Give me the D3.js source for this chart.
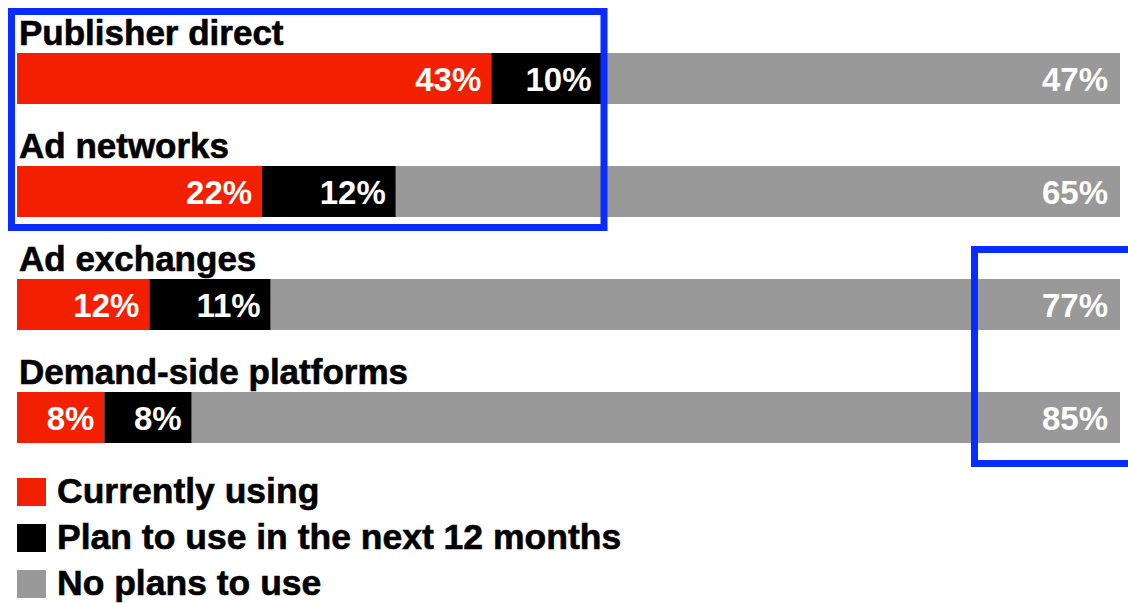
<!DOCTYPE html>
<html>
<head>
<meta charset="utf-8">
<script src="https://cdn.jsdelivr.net/npm/d3@7"></script>
<style>
  html, body { margin: 0; padding: 0; background: #fff; }
  svg { display: block; }
  text { font-family: "Liberation Sans", Arial, sans-serif; font-weight: bold; }
</style>
</head>
<body>
<svg id="chart" width="1128" height="603"></svg>
<script>
// Survey: use of ad buying channels
const categories = ["Publisher direct", "Ad networks", "Ad exchanges", "Demand-side platforms"];
const currentlyUsing = [43, 22, 12, 8];
const planToUse = [10, 12, 11, 8];
const noPlans = [47, 65, 77, 85];
const seriesNames = ["Currently using", "Plan to use in the next 12 months", "No plans to use"];
const seriesColors = ["#f22000", "#000000", "#999999"];

const svg = d3.select("#chart");
const left = 17, right = 1120;

const rows = categories.map((c, i) => {
  const vals = [currentlyUsing[i], planToUse[i], noPlans[i]];
  const total = d3.sum(vals);
  let acc = 0;
  const segs = vals.map((v, k) => {
    const s = { k, v, x0: acc, x1: acc + v, total };
    acc += v;
    return s;
  });
  return { c, segs, total };
});

const y = d3.scaleBand().domain(categories).range([20, 472]);
const barTop = 33, barH = 51;

const row = svg.selectAll("g.row").data(rows).join("g")
  .attr("class", "row")
  .attr("transform", d => `translate(0,${y(d.c)})`);

row.append("text")
  .attr("x", 19).attr("y", 25)
  .attr("font-size", 35)
  .attr("fill", "#000")
  .attr("stroke", "#000").attr("stroke-width", 0.6)
  .text(d => d.c);

row.each(function(d) {
  const x = d3.scaleLinear().domain([0, d.total]).range([left, right]);
  const g = d3.select(this);
  g.selectAll("rect.seg").data(d.segs).join("rect")
    .attr("class", "seg")
    .attr("x", s => x(s.x0))
    .attr("y", barTop)
    .attr("width", s => x(s.x1) - x(s.x0))
    .attr("height", barH)
    .attr("fill", s => seriesColors[s.k]);
  g.selectAll("text.val").data(d.segs).join("text")
    .attr("class", "val")
    .attr("x", s => x(s.x1) - (s.k === 2 ? 12 : 10))
    .attr("y", barTop + 38)
    .attr("text-anchor", "end")
    .attr("font-size", 33)
    .attr("fill", "#fff")
    .text(s => s.v + "%");
});

// Legend
const legend = svg.selectAll("g.legend").data(seriesNames).join("g")
  .attr("class", "legend")
  .attr("transform", (d, i) => `translate(17,${478 + i * 46})`);
legend.append("rect")
  .attr("width", 29).attr("height", 28)
  .attr("fill", (d, i) => seriesColors[i]);
legend.append("text")
  .attr("x", 40).attr("y", 25)
  .attr("font-size", 35.5)
  .attr("fill", "#000")
  .attr("stroke", "#000").attr("stroke-width", 0.6)
  .text(d => d);

// Highlight boxes
svg.append("rect")
  .attr("x", 11.5).attr("y", 11.5).attr("width", 592.5).attr("height", 216)
  .attr("fill", "none").attr("stroke", "#0a2cff").attr("stroke-width", 7);
svg.append("rect")
  .attr("x", 974.5).attr("y", 249.5).attr("width", 170).attr("height", 214)
  .attr("fill", "none").attr("stroke", "#0a2cff").attr("stroke-width", 7);
</script>
</body>
</html>
